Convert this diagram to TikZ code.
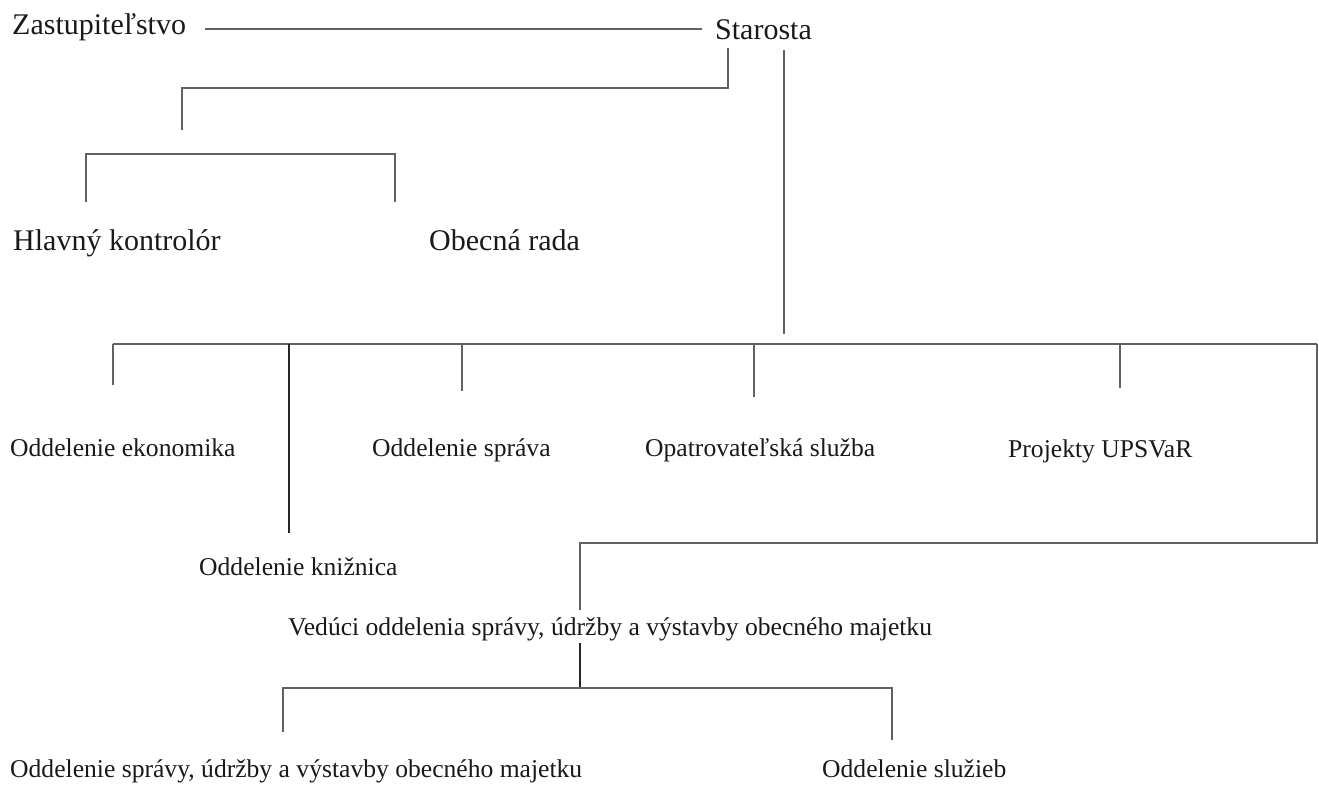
\documentclass[tikz,border=0pt]{standalone}
\usepackage{fontspec}
\setmainfont{Liberation Serif}
\begin{document}
\begin{tikzpicture}[x=1pt,y=-1pt,
  big/.style={anchor=base west,inner sep=0pt,text=black!90,font=\fontsize{30}{36}\selectfont},
  small/.style={anchor=base west,inner sep=0pt,text=black!90,font=\fontsize{25.6}{30}\selectfont},
  conn/.style={draw=black!62,line width=1.5pt},
  darkconn/.style={draw=black!85,line width=1.5pt}]
\useasboundingbox (0,0) rectangle (1319,787);
% texts
\node[big] (zast) at (12,34) {Zastupiteľstvo};
\node[big] (star) at (715,39) {Starosta};
\node[big] (hk) at (13,250) {Hlavný kontrolór};
\node[big] (orada) at (429,250) {Obecná rada};
\node[small] (ekon) at (10,456) {Oddelenie ekonomika};
\node[small] (sprava) at (372,456) {Oddelenie správa};
\node[small] (opat) at (645,456) {Opatrovateľská služba};
\node[small] (proj) at (1008,457) {Projekty UPSVaR};
\node[small] (kniz) at (199,575) {Oddelenie knižnica};
\node[small] (ved) at (288,635) {Vedúci oddelenia správy, údržby a výstavby obecného majetku};
\node[small] (osum) at (10,777) {Oddelenie správy, údržby a výstavby obecného majetku};
\node[small] (osluz) at (822,777) {Oddelenie služieb};
% coordinates
\coordinate (zL) at (205,29);
\coordinate (zR) at (702,29);
\coordinate (sA) at (728,48);
\coordinate (sB) at (728,88);
\coordinate (sC) at (182,88);
\coordinate (sD) at (182,130);
\coordinate (hL) at (86,154);
\coordinate (hR) at (395,154);
\coordinate (hkT) at (86,202);
\coordinate (orT) at (395,202);
\coordinate (sTop) at (784,50);
\coordinate (sBot) at (784,334);
\coordinate (busL) at (113,344);
\coordinate (busR) at (1317,344);
\coordinate (ekT) at (113,385);
\coordinate (knT) at (289,533);
\coordinate (spT) at (462,391);
\coordinate (opT) at (754,397);
\coordinate (prT) at (1120,388);
\coordinate (rB) at (1317,543);
\coordinate (vA) at (580,543);
\coordinate (vB) at (580,610);
\coordinate (vC) at (580,643);
\coordinate (vD) at (580,688);
\coordinate (bL) at (283,688);
\coordinate (bR) at (892,688);
\coordinate (osT) at (283,732);
\coordinate (olT) at (892,740);
% connectors
\draw[conn] (zL) -- (zR);
\draw[conn] (sA) -- (sB) -- (sC) -- (sD);
\draw[conn] (hkT) -- (hL) -- (hR) -- (orT);
\draw[conn] (sTop) -- (sBot);
\draw[conn] (busL) -- (busR);
\draw[conn] (busL) -- (ekT);
\draw[darkconn] (busL -| knT) -- (knT);
\draw[conn] (busL -| spT) -- (spT);
\draw[conn] (busL -| opT) -- (opT);
\draw[conn] (busL -| prT) -- (prT);
\draw[conn] (busR) -- (rB) -- (vA) -- (vB);
\draw[darkconn] (vC) -- (vD);
\draw[conn] (osT) -- (bL) -- (bR) -- (olT);
\end{tikzpicture}
\end{document}
